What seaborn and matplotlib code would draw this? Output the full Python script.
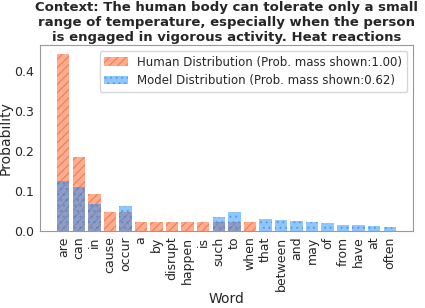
import seaborn as sns
import matplotlib.pyplot as plt

words = ['are', 'can', 'in', 'cause', 'occur', 'a', 'by', 'disrupt', 'happen', 'is',
         'such', 'to', 'when', 'that', 'between', 'and', 'may', 'of', 'from', 'have',
         'at', 'often']
human = [0.442, 0.186, 0.093, 0.0465, 0.0465, 0.0233, 0.0233, 0.0233, 0.0233, 0.0233,
         0.0233, 0.0233, 0.0233, 0, 0, 0, 0, 0, 0, 0, 0, 0]
model = [0.125, 0.111, 0.068, 0, 0.062, 0, 0, 0, 0, 0,
         0.034, 0.047, 0, 0.031, 0.027, 0.024, 0.022, 0.019, 0.014, 0.014,
         0.012, 0.010]

sns.set_style('white')
plt.rcParams['font.family'] = ['DejaVu Sans']
plt.rcParams['hatch.linewidth'] = 0.8

fig, ax = plt.subplots(figsize=(4.25, 3.08), dpi=100)

sns.barplot(x=words, y=human, color='coral', alpha=0.65, saturation=1,
            hatch='////', edgecolor='#e8643a', linewidth=0,
            label='Human Distribution (Prob. mass shown:1.00)', ax=ax)
sns.barplot(x=words, y=model, color='dodgerblue', alpha=0.5, saturation=1,
            hatch='...', edgecolor='#3a7fd0', linewidth=0,
            label='Model Distribution (Prob. mass shown:0.62)', ax=ax)

ax.set_title('Context: The human body can tolerate only a small\n'
             'range of temperature, especially when the person\n'
             'is engaged in vigorous activity. Heat reactions',
             fontsize=9.5, fontweight='bold', pad=3, linespacing=1.2)
ax.set_xlabel('Word', fontsize=10, labelpad=1)
ax.set_ylabel('Probability', fontsize=10, labelpad=1)
ax.tick_params(axis='x', labelrotation=90, labelsize=9, length=2, pad=2)
ax.tick_params(axis='y', labelsize=9, length=2, pad=2)
ax.set_yticks([0, 0.1, 0.2, 0.3, 0.4])
ax.set_xlim(-1.5, 22.5)
ax.set_ylim(0, 0.465)
for s in ax.spines.values():
    s.set_color('#999999')
ax.legend(fontsize=8.5, loc='upper right')

plt.subplots_adjust(left=0.094, right=0.972, top=0.854, bottom=0.25)
plt.savefig('out.png', dpi=100)
